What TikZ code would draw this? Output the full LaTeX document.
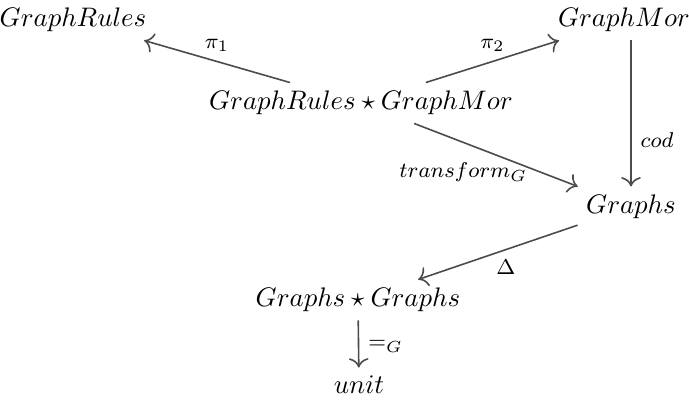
\documentclass[tikz,border=0pt]{standalone}
\usepackage{tikz}
\usetikzlibrary{positioning,calc,arrows.meta}

\tikzset{
  obj/.style = {inner sep = 3pt},
  mor/.style = {-{To[scale = 1.2]}, semithick, draw = black!70},
  lbl/.style = {font = \footnotesize}
}

\begin{document}
\begin{tikzpicture}[x = 0.0131cm, y = 0.0131cm]
\useasboundingbox (0,0) rectangle (689,410);
% objects
\node[obj] (rules) at (73,390) {$GraphRules$};
\node[obj] (mor) at (624,390) {$GraphMor$};
\node[obj] (prod) at (361,307) {$GraphRules \star GraphMor$};
\node[obj] (graphs) at (631,203) {$Graphs$};
\node[obj] (gg) at (358,110) {$Graphs \star Graphs$};
\node[obj] (unit) at (359,25) {$unit$};
% projections
\draw[mor] (prod) -- node[lbl, above] {$\pi_1$} (rules);
\draw[mor] (prod) -- node[lbl, above] {$\pi_2$} (mor);
% codomain
\draw[mor] (mor.south -| graphs.north) -- node[lbl, right, pos = 0.68] {$cod$} (graphs);
% transform
\draw[mor] (prod) -- node[lbl, below = 4pt, pos = 0.3] {$transform_G$} (graphs);
% diagonal
\draw[mor] (graphs) -- node[lbl, below, pos = 0.45] {$\Delta$} (gg);
% equality
\draw[mor] (gg) -- node[lbl, right, pos = 0.55] {$=_G$} (unit);
\end{tikzpicture}
\end{document}
